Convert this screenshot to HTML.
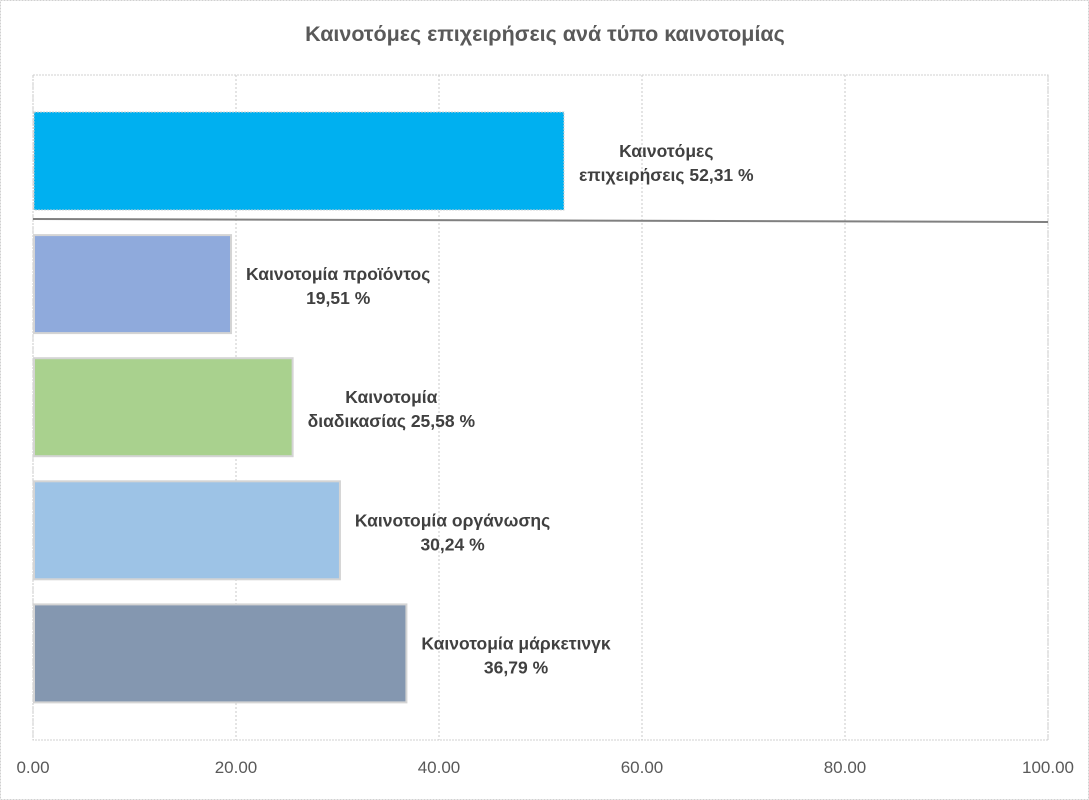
<!DOCTYPE html>
<html><head><meta charset="utf-8"><style>
body{margin:0;background:#fff;}
svg{display:block;font-family:"Liberation Sans","DejaVu Sans",sans-serif;}
</style></head><body>
<svg id="chart" width="1089" height="800">
<rect x="0.5" y="0.5" width="1088" height="799" fill="#fff" stroke="#d0d0d0" stroke-dasharray="2,1"/>
<text x="545" y="41" text-anchor="middle" font-size="21.5" font-weight="bold" fill="#595959">Καινοτόμες επιχειρήσεις ανά τύπο καινοτομίας</text>
<g id="grid"></g><g id="bars"></g><g id="labels"></g><g id="ticks"></g>
</svg>
<script>
const categories=[["Καινοτόμες","επιχειρήσεις 52,31 %"],["Καινοτομία προϊόντος","19,51 %"],["Καινοτομία","διαδικασίας 25,58 %"],["Καινοτομία οργάνωσης","30,24 %"],["Καινοτομία μάρκετινγκ","36,79 %"]];
const values=[52.31,19.51,25.58,30.24,36.79];
const colors=["#00b0f0","#8faadc","#a9d18e","#9dc3e6","#8497b0"];
const tickValues=[0,20,40,60,80,100];
const tickLabels=["0.00","20.00","40.00","60.00","80.00","100.00"];
const NS="http://www.w3.org/2000/svg";
const L=33,R=1048,T=75,B=740;
const xs=v=>L+(v/100)*(R-L);
const bandTop=i=>112+i*123.1, bandH=98;
function mk(tag,attrs,parent){const e=document.createElementNS(NS,tag);for(const k in attrs)e.setAttribute(k,attrs[k]);parent.appendChild(e);return e;}
const grid=document.getElementById('grid'),bars=document.getElementById('bars'),labels=document.getElementById('labels'),ticks=document.getElementById('ticks');
const pa=mk('rect',{x:L,y:T,width:R-L,height:B-T,fill:'none',stroke:'#d0d0d0','stroke-dasharray':'2,1'},grid);


tickValues.forEach((v,i)=>{
  const g=mk('line',{x1:xs(v),x2:xs(v),y1:T,y2:B,stroke:'#c8c8c8','stroke-dasharray':'2,2'},grid);
  
  
  const t=mk('text',{x:xs(v),y:773,'text-anchor':'middle','font-size':17,fill:'#595959'},ticks);
  t.textContent=tickLabels[i];
  
  
});
values.forEach((v,i)=>{
  const y=bandTop(i);
  const b=mk('rect',{x:L+1,y:y,width:xs(v)-L-1,height:bandH,fill:colors[i],stroke:i===0?'#d0d0d0':'#d4d4d4','stroke-width':i===0?1:2,'stroke-dasharray':i===0?'2,1':'none'},bars);
  
  
  const g=mk('g',{},labels);
  
  
  const lines=categories[i];
  const ts=lines.map((s,j)=>{const t=mk('text',{y:y+bandH/2-4+j*24,'text-anchor':'middle','font-size':17.5,'font-weight':'bold',fill:'#404040'},g);t.textContent=s;return t;});
  let w=0;ts.forEach(t=>w=Math.max(w,t.getComputedTextLength()));
  ts.forEach(t=>t.setAttribute('x',xs(v)+15+w/2));
});
const ln=mk('line',{x1:L,y1:219,x2:R,y2:222,stroke:'#808080','stroke-width':2},bars);


</script>
</body></html>
